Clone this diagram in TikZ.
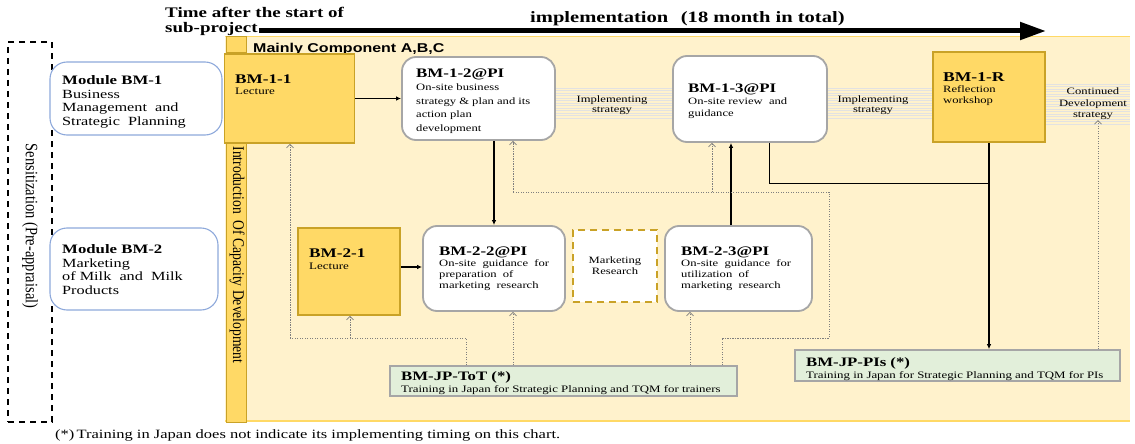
\documentclass[tikz,border=0pt]{standalone}
\usepackage{graphicx}
\usepackage{fontspec}
\setmainfont{Liberation Serif}[FakeStretch=1.3]
\newfontfamily\rotfont{Liberation Serif}
\newfontfamily\headsans{Liberation Sans}[FakeStretch=1.25]
\usetikzlibrary{arrows.meta}

\definecolor{cream}{HTML}{FFF2CC}
\definecolor{creamedge}{HTML}{FFD966}
\definecolor{goldfill}{HTML}{FFD966}
\definecolor{goldedge}{HTML}{C9A227}
\definecolor{boxgray}{HTML}{A6A6A6}
\definecolor{modblue}{HTML}{8EA9DB}
\definecolor{greenfill}{HTML}{E2EFDA}
\definecolor{dotgray}{HTML}{7F7F7F}
\definecolor{stripegray}{HTML}{E2E2E2}

\newcommand\setfs[2]{\fontsize{#1}{#2}\selectfont}

\tikzset{
  goldbox/.style={draw=goldedge, fill=goldfill, line width=1.6pt, inner sep=0pt},
  pibox/.style={draw=boxgray, fill=white, line width=1.8pt, rounded corners=14pt, inner sep=0pt},
  modbox/.style={draw=modblue, fill=white, line width=1.1pt, rounded corners=17pt, inner sep=0pt},
  trainbox/.style={draw=boxgray, fill=greenfill, line width=1.6pt, inner sep=0pt},
  % multi-line blocks are placed by the baseline of their last line
  txt/.style={anchor=base west, inner sep=0pt, align=left},
  ctxt/.style={inner sep=0pt, align=center},
  dotlink/.style={draw=dotgray, line width=0.8pt, dash pattern=on 1.2pt off 1.3pt},
  opentip/.style={-{Straight Barb[length=3.5pt,width=7pt,line width=0.7pt]}},
  solidlink/.style={draw=black, line width=1.1pt, -{Latex[length=5pt,width=4.5pt]}},
  stripe/.style={draw=stripegray, line width=0.3pt},
}

\begin{document}
\begin{tikzpicture}[x=1pt,y=-1pt]
\useasboundingbox (0,0) rectangle (1135,444);

% cream working area of the sub-project
\fill[cream] (225,37) rectangle (1130,421);
\draw[creamedge, line width=1pt] (225,37) -- (1130,37);
\draw[creamedge, line width=2pt] (225,421) -- (1130,421);

% faint striped bands behind the strategy labels
\foreach \yy in {88,90.5,...,120} {
  \draw[stripe] (556,\yy) -- (672,\yy);
  \draw[stripe] (828,\yy) -- (932,\yy);
}
\foreach \yy in {84,86.5,...,124} {
  \draw[stripe] (1046,\yy) -- (1130,\yy);
}

% vertical introduction bar
\node[draw=goldedge, fill=goldfill, line width=1pt, inner sep=0pt,
      minimum width=20pt, minimum height=385pt] (introbar) at (236.5,229.5) {};
\draw[goldedge, line width=0.8pt] (introbar.north west |- 0,52) -- (introbar.north east |- 0,52);
\node[rotate=-90, font=\rotfont\setfs{13.6}{16}, inner sep=0pt] (introtxt) at (237,255)
  {\scalebox{1}[1.2]{Introduction\ \ Of Capacity Development}};

% time axis
\node[txt, font=\bfseries\setfs{14.6}{14.5}] (ttl) at (165,32.5) {Time after the start of\\sub-project};
\node[txt, font=\bfseries\setfs{15.8}{17}] (impl) at (530,22.5) {implementation\hspace{0.8em}(18 month in total)};
\coordinate (axisS) at (259,31);
\coordinate (axisE) at (1046,31);
\draw[line width=5pt, -{Triangle[length=26pt,width=17pt]}] (axisS) -- (axisE);

% sensitization frame
\node[draw=black, dash pattern=on 6pt off 5pt, line width=1.8pt, inner sep=0pt,
      minimum width=44pt, minimum height=380pt] (sens) at (30,232) {};
\node[rotate=-90, font=\rotfont\setfs{14.5}{16}, inner sep=0pt] (senstxt) at (30,226)
  {\scalebox{1}[1.2]{Sensitization (Pre-appraisal)}};

% modules
\node[modbox, minimum width=172pt, minimum height=73pt] (modA) at (136,98.5) {};
\node[txt, font=\setfs{12.5}{13.7}] (modAt) at (62,125.5)
  {\textbf{\setfs{12.9}{13.7}Module BM-1}\\Business\\Management\ \ and\\Strategic\ \ Planning};
\node[modbox, minimum width=168pt, minimum height=82pt] (modB) at (134,269) {};
\node[txt, font=\setfs{12.5}{13.5}] (modBt) at (62,294)
  {\textbf{\setfs{12.9}{13.5}Module BM-2}\\Marketing\\of Milk\ \ and\ \ Milk\\Products};

\node[txt, font=\headsans\bfseries\setfs{12.8}{14}] (comp) at (253,53) {Mainly Component A,B,C};

% first row of activities
\node[goldbox, minimum width=130pt, minimum height=89pt] (b11) at (289.5,98.5) {};
\node[txt, font=\setfs{10}{10.8}] (b11t) at (235,94.5)
  {\textbf{\setfs{13.2}{10.8}BM-1-1}\\Lecture};

\node[pibox, minimum width=153pt, minimum height=83pt] (b12) at (478.5,98.5) {};
\node[txt, font=\setfs{9.7}{13.6}] (b12t) at (416,131.5)
  {\textbf{\setfs{13}{13.6}BM-1-2@PI}\\On-site business\\strategy \& plan and its\\action plan\\development};

\node[ctxt, font=\setfs{9.7}{10}] (lblA) at (612,105) {Implementing\\strategy};

\node[pibox, minimum width=154pt, minimum height=86pt] (b13) at (750,99) {};
\node[txt, font=\setfs{9.7}{12}] (b13t) at (688,116.5)
  {\textbf{\setfs{13}{12}BM-1-3@PI}\\On-site review\ \ and\\guidance};

\node[ctxt, font=\setfs{9.7}{10}] (lblB) at (873,105) {Implementing\\strategy};

\node[goldbox, minimum width=112pt, minimum height=90pt] (b1R) at (989,97) {};
\node[txt, font=\setfs{9.7}{10.8}] (b1Rt) at (943,103.5)
  {\textbf{\setfs{13.5}{10.8}BM-1-R}\\Reflection\\workshop};

\node[ctxt, font=\setfs{9.7}{11.5}] (lblC) at (1093,104) {Continued\\Development\\strategy};

% second row of activities
\node[goldbox, minimum width=102pt, minimum height=87pt] (b21) at (349,271.5) {};
\node[txt, font=\setfs{10}{11.7}] (b21t) at (309,269)
  {\textbf{\setfs{13.2}{11.7}BM-2-1}\\Lecture};

\node[pibox, minimum width=142pt, minimum height=85pt] (b22) at (494,268.5) {};
\node[txt, font=\setfs{9.7}{11}] (b22t) at (439,288)
  {\textbf{\setfs{13}{11}BM-2-2@PI}\\On-site\ \ guidance\ \ for\\preparation\ \ of\\marketing\ \ research};

\node[draw=goldedge, dash pattern=on 7pt off 5pt, line width=1.8pt, fill=white,
      minimum width=84pt, minimum height=72pt, align=center, inner sep=0pt,
      font=\setfs{9.7}{11}] (mr) at (615,266) {Marketing\\Research};

\node[pibox, minimum width=147pt, minimum height=85pt] (b23) at (738.5,268.5) {};
\node[txt, font=\setfs{9.7}{11}] (b23t) at (681,288)
  {\textbf{\setfs{13}{11}BM-2-3@PI}\\On-site\ \ guidance\ \ for\\utilization\ \ of\\marketing\ \ research};

% trainings in Japan
\node[trainbox, minimum width=347pt, minimum height=30pt] (tot) at (563.5,381) {};
\node[txt, font=\setfs{9.9}{11.5}] (tott) at (401,392)
  {\textbf{\setfs{12.9}{11.5}BM-JP-ToT (*)}\\Training in Japan for Strategic Planning and TQM for trainers};
\node[trainbox, minimum width=325pt, minimum height=31pt] (pis) at (957.5,365.5) {};
\node[txt, font=\setfs{9.9}{12}] (pist) at (806,378.5)
  {\textbf{\setfs{12.9}{12}BM-JP-PIs (*)}\\Training in Japan for Strategic Planning and TQM for PIs};

% solid flow
\draw[solidlink] (b11.east) -- (b11.east -| b12.west);
\coordinate (rowB) at (0,267);
\draw[solidlink] (b21.east |- rowB) -- (b22.west |- rowB);
\draw[solidlink] (b22.north |- b12.south) -- (b22.north);
\coordinate (upX) at (731,0);
\draw[solidlink] (upX |- b23.north) -- (upX |- b13.south);
\coordinate (revX) at (769,0);
\coordinate (revY) at (769,183);
\draw[black, line width=0.8pt] (revX |- b13.south) -- (revY) -- (revY -| b1R.south);
\draw[solidlink, line width=1.6pt] (b1R.south) -- (b1R.south |- pis.north);

% dotted feedback from the trainings
\coordinate (jL) at (290,338);
\coordinate (jA) at (350,338);
\coordinate (jB) at (466,338);
\coordinate (xB22) at (513,0);
\coordinate (xB23) at (690,0);
\coordinate (kA) at (722,338);
\coordinate (kB) at (829,338);
\coordinate (kC) at (829,192);
\coordinate (kD) at (513,192);
\coordinate (kE) at (712,192);
\coordinate (xC) at (1098,0);
\draw[dotlink] (jB |- tot.north) -- (jB) -- (jL);
\draw[dotlink, opentip] (jL) -- (jL |- b11.south);
\draw[dotlink, opentip] (jA) -- (jA |- b21.south);
\draw[dotlink, opentip] (xB22 |- tot.north) -- (xB22 |- b22.south);
\draw[dotlink, opentip] (xB23 |- tot.north) -- (xB23 |- b23.south);
\draw[dotlink] (kA |- tot.north) -- (kA) -- (kB) -- (kC) -- (kD);
\draw[dotlink, opentip] (kD) -- (kD |- b12.south);
\draw[dotlink, opentip] (kE) -- (kE |- b13.south);
\draw[dotlink, opentip] (xC |- pis.north) -- (xC |- lblC.south);

% footnote
\node[txt, font=\setfs{12.7}{14}] (note) at (55,438)
  {(*)\,Training in Japan does not indicate its implementing timing on this chart.};
\end{tikzpicture}
\end{document}
